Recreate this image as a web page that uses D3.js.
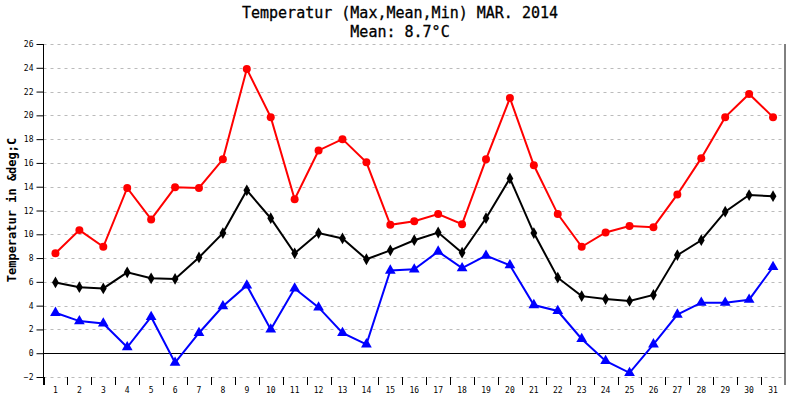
<!DOCTYPE html>
<html><head><meta charset="utf-8">
<script src="https://cdn.jsdelivr.net/npm/d3@7"></script>
<style>body{margin:0;background:#fff}text{font-family:"DejaVu Sans Mono",monospace}</style>
</head><body><svg id="c" width="800" height="400"></svg>
<script>
const days = d3.range(1,32).map(String);
const maxT = [8.4,10.35,8.95,13.9,11.25,13.95,13.9,16.3,23.9,19.85,12.95,17.05,18.0,16.05,10.8,11.1,11.7,10.85,16.3,21.45,15.8,11.7,8.95,10.15,10.7,10.6,13.35,16.4,19.85,21.8,19.85];
const meanT = [5.95,5.55,5.45,6.8,6.3,6.25,8.05,10.1,13.7,11.35,8.4,10.1,9.65,7.9,8.65,9.5,10.15,8.45,11.35,14.7,10.1,6.35,4.8,4.55,4.4,4.9,8.25,9.5,11.9,13.3,13.2];
const minT = [3.4,2.7,2.5,0.5,3.05,-0.8,1.7,3.95,5.7,2.0,5.45,3.85,1.7,0.75,6.95,7.05,8.55,7.15,8.2,7.4,4.05,3.55,1.2,-0.65,-1.65,0.75,3.25,4.25,4.25,4.5,7.25];
const yTicks = d3.range(-2,27,2);
const titleLines = ["Temperatur (Max,Mean,Min) MAR. 2014","Mean: 8.7°C"];
const yLabel = "Temperatur in &deg;C";

const svg = d3.select("#c");
const L=43.5,R=785,T=44,B=377;
const x = d3.scaleBand().domain(days).range([L,R]);
const y = d3.scaleLinear().domain([-2,26]).range([B,T]);

svg.selectAll(".t").data(titleLines).enter().append("text")
 .attr("x",400).attr("y",(d,i)=>18+i*19).attr("text-anchor","middle")
 .attr("font-size",15).attr("fill","#000").attr("stroke","#000").attr("stroke-width",0.3).text(d=>d);

svg.append("g").selectAll("line").data(yTicks.filter(v=>v!==0)).enter().append("line")
 .attr("x1",L).attr("x2",R).attr("y1",d=>Math.round(y(d))+.5).attr("y2",d=>Math.round(y(d))+.5)
 .attr("stroke","#bbb").attr("stroke-dasharray","3,4");
svg.append("line").attr("x1",L).attr("x2",R).attr("y1",Math.round(y(0))+.5).attr("y2",Math.round(y(0))+.5).attr("stroke","#000");

const ya = svg.append("g").attr("transform",`translate(${L},0)`)
 .call(d3.axisLeft(y).tickValues(yTicks).tickSize(7).tickPadding(3));
ya.select(".domain").remove();
ya.append("line").attr("x1",0).attr("x2",0).attr("y1",T).attr("y2",B+8).attr("stroke","#000");
ya.selectAll("text").attr("font-size",8).attr("font-family","DejaVu Sans Mono");
svg.append("line").attr("x1",R).attr("x2",R).attr("y1",T).attr("y2",B+8).attr("stroke","#000");

const xa = svg.append("g").attr("transform",`translate(0,${B})`)
 .call(d3.axisBottom(x).tickSize(0).tickPadding(10));
xa.select(".domain").remove();
xa.selectAll("text").attr("font-size",8).attr("font-family","DejaVu Sans Mono");
svg.append("g").selectAll("line").data(days).enter().append("line")
 .attr("x1",d=>Math.round(x(d))+.5).attr("x2",d=>Math.round(x(d))+.5).attr("y1",B).attr("y2",B+8).attr("stroke","#000");

svg.append("text").attr("transform","translate(16,210) rotate(-90)").attr("text-anchor","middle")
 .attr("font-size",12).attr("font-weight","bold").text(yLabel);

const cx = d=>x(d)+x.bandwidth()/2;
const line = d3.line().x((v,i)=>cx(days[i])).y(v=>y(v));
function series(data,color,shape,size){
 svg.append("path").datum(data).attr("d",line).attr("fill","none").attr("stroke",color).attr("stroke-width",2);
 svg.append("g").selectAll("path").data(data).enter().append("path")
  .attr("transform",(v,i)=>`translate(${cx(days[i])},${y(v)})`)
  .attr("d",d3.symbol().type(shape).size(size)())
  .attr("fill",color);
}
series(maxT,"#f00",d3.symbolCircle,50);
series(meanT,"#000",d3.symbolDiamond,40);
series(minT,"#00f",d3.symbolTriangle,50);
</script></body></html>
